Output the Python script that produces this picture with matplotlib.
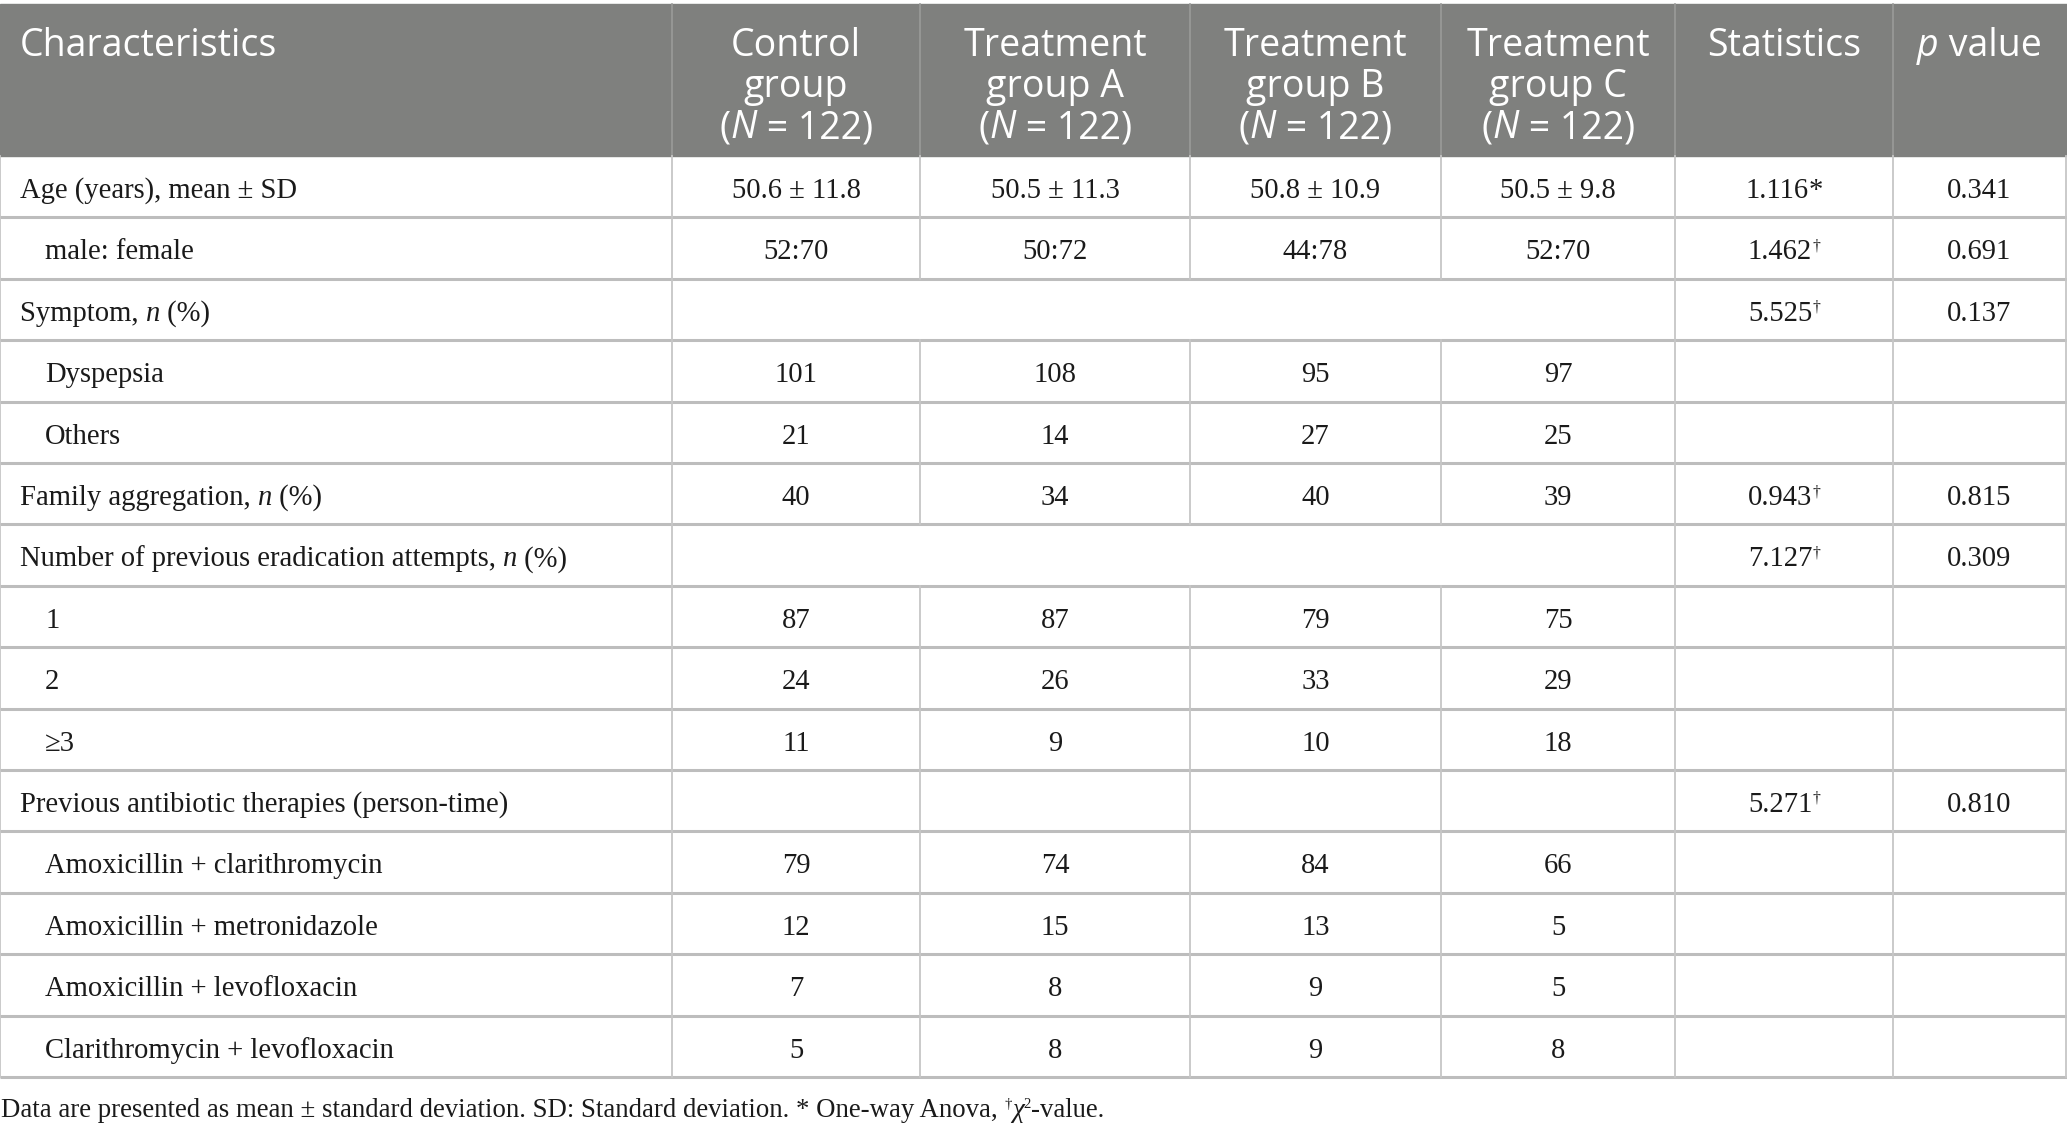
import matplotlib
matplotlib.use("Agg")
import matplotlib.pyplot as plt
from matplotlib.patches import Rectangle

# ---- table content ----
header_cols = ["Characteristics", "Control\ngroup", "Treatment\ngroup A",
               "Treatment\ngroup B", "Treatment\ngroup C", "Statistics", "p value"]
group_n = [122, 122, 122, 122]

row_labels = [
    "Age (years), mean ± SD", "male: female", "Symptom, n (%)", "Dyspepsia", "Others",
    "Family aggregation, n (%)", "Number of previous eradication attempts, n (%)",
    "1", "2", "≥3", "Previous antibiotic therapies (person-time)",
    "Amoxicillin + clarithromycin", "Amoxicillin + metronidazole",
    "Amoxicillin + levofloxacin", "Clarithromycin + levofloxacin",
]
indented = [False, True, False, True, True, False, False, True, True, True, False,
            True, True, True, True]
control = ["50.6 ± 11.8", "52:70", "", "101", "21", "40", "", "87", "24", "11", "",
           "79", "12", "7", "5"]
group_a = ["50.5 ± 11.3", "50:72", "", "108", "14", "34", "", "87", "26", "9", "",
           "74", "15", "8", "8"]
group_b = ["50.8 ± 10.9", "44:78", "", "95", "27", "40", "", "79", "33", "10", "",
           "84", "13", "9", "9"]
group_c = ["50.5 ± 9.8", "52:70", "", "97", "25", "39", "", "75", "29", "18", "",
           "66", "5", "5", "8"]
stat_values = ["1.116", "1.462", "5.525", "", "", "0.943", "7.127", "", "", "", "5.271",
               "", "", "", ""]
stat_marks = ["*", "†", "†", "", "", "†", "†", "", "", "", "†", "", "", "", ""]
p_values = ["0.341", "0.691", "0.137", "", "", "0.815", "0.309", "", "", "", "0.810",
            "", "", "", ""]
merged_rows = [2, 6]   # group cells spanning all four groups

footnote = "Data are presented as mean ± standard deviation. SD: Standard deviation. * One-way Anova, "

# ---- layout (pixels) ----
W, H = 2067, 1133
col_edges = [0, 672, 920, 1190, 1441, 1675, 1893, 2066]
head_top, head_bot = 4, 156
row_h = 61.4

SANS = "Open Sans"
SERIF = "Liberation Serif"
HEAD_FS = 27
BODY_FS = 20.6
NOTE_FS = 19.3
TXT = "#1a1a1a"

fig = plt.figure(figsize=(W / 100, H / 100), dpi=100)
ax = fig.add_axes([0, 0, 1, 1])
ax.set_xlim(0, W)
ax.set_ylim(H, 0)
ax.axis("off")
renderer = fig.canvas.get_renderer()


def runs(x, y, parts, ha="left", base=None):
    """Draw a sequence of differently styled text pieces on one baseline."""
    base = base or {}
    objs, widths = [], []
    for s, kw in parts:
        style = dict(base)
        style.update(kw)
        dy = style.pop("dy", 0)
        t = ax.text(0, y + dy, s, va="baseline", ha="left", **style)
        objs.append(t)
        widths.append(t.get_window_extent(renderer).width)
    total = sum(widths)
    x0 = x - total / 2 if ha == "center" else x
    for t, w in zip(objs, widths):
        t.set_x(x0)
        x0 += w


# header band
ax.add_patch(Rectangle((0, head_top), W, head_bot - head_top, color="#7f807e", zorder=0))
for xe in col_edges[1:-1]:
    ax.plot([xe, xe], [head_top, head_bot], color="#9a9b99", lw=1.2)

head_kw = dict(family=SANS, fontsize=HEAD_FS, color="white")
base_lines = [56, 97, 138]
runs(20, base_lines[0], [("Characteristics", {})], base=head_kw)
for j, title in enumerate(header_cols[1:5]):
    cx = (col_edges[j + 1] + col_edges[j + 2]) / 2
    for k, line in enumerate(title.split("\n")):
        runs(cx, base_lines[k], [(line, {})], ha="center", base=head_kw)
    runs(cx, base_lines[2], [("(", {}), ("N", {"style": "italic"}),
                             (f" = {group_n[j]})", {})], ha="center", base=head_kw)
cx = (col_edges[5] + col_edges[6]) / 2
runs(cx, base_lines[0], [("Statistics", {})], ha="center", base=head_kw)
cx = (col_edges[6] + col_edges[7]) / 2
runs(cx, base_lines[0], [("p", {"style": "italic"}), (" value", {})], ha="center", base=head_kw)

# body rows
body_kw = dict(family=SERIF, fontsize=BODY_FS, color=TXT)
sup_kw = {"fontsize": BODY_FS * 0.55, "dy": -9}
groups = [control, group_a, group_b, group_c]
for i, label in enumerate(row_labels):
    top = head_bot + i * row_h
    bot = top + row_h
    yb = top + 42
    lx = 45 if indented[i] else 20
    if ", n (%)" in label:
        runs(lx, yb, [(label.replace("n (%)", ""), {}), ("n", {"style": "italic"}),
                      (" (%)", {})], base=body_kw)
    else:
        runs(lx, yb, [(label, {})], base=body_kw)
    for j, g in enumerate(groups):
        cx = (col_edges[j + 1] + col_edges[j + 2]) / 2
        if g[i]:
            runs(cx, yb, [(g[i], {})], ha="center", base=body_kw)
    if stat_values[i]:
        cx = (col_edges[5] + col_edges[6]) / 2
        mark = stat_marks[i]
        parts = [(stat_values[i], {})]
        parts.append((mark, {}) if mark == "*" else (mark, sup_kw))
        runs(cx, yb, parts, ha="center", base=body_kw)
    if p_values[i]:
        cx = (col_edges[6] + col_edges[7]) / 2
        runs(cx, yb, [(p_values[i], {})], ha="center", base=body_kw)
    # grid
    ax.plot([0, W], [bot, bot], color="#bdbdbd", lw=2.2, solid_capstyle="butt")
    inner = [col_edges[1], col_edges[5], col_edges[6]] if i in merged_rows else col_edges[1:-1]
    for xe in [0] + list(inner) + [col_edges[-1]]:
        ax.plot([xe, xe], [top, bot], color="#c6c6c6", lw=1.3)

# footnote
note_kw = dict(family=SERIF, fontsize=NOTE_FS, color=TXT)
note_sup = {"fontsize": NOTE_FS * 0.55, "dy": -9}
runs(1, 1117, [(footnote, {}), ("†", note_sup), ("χ", {"style": "italic"}),
               ("2", note_sup), ("-value.", {})], base=note_kw)

fig.savefig("out.png", dpi=100, facecolor="white")
